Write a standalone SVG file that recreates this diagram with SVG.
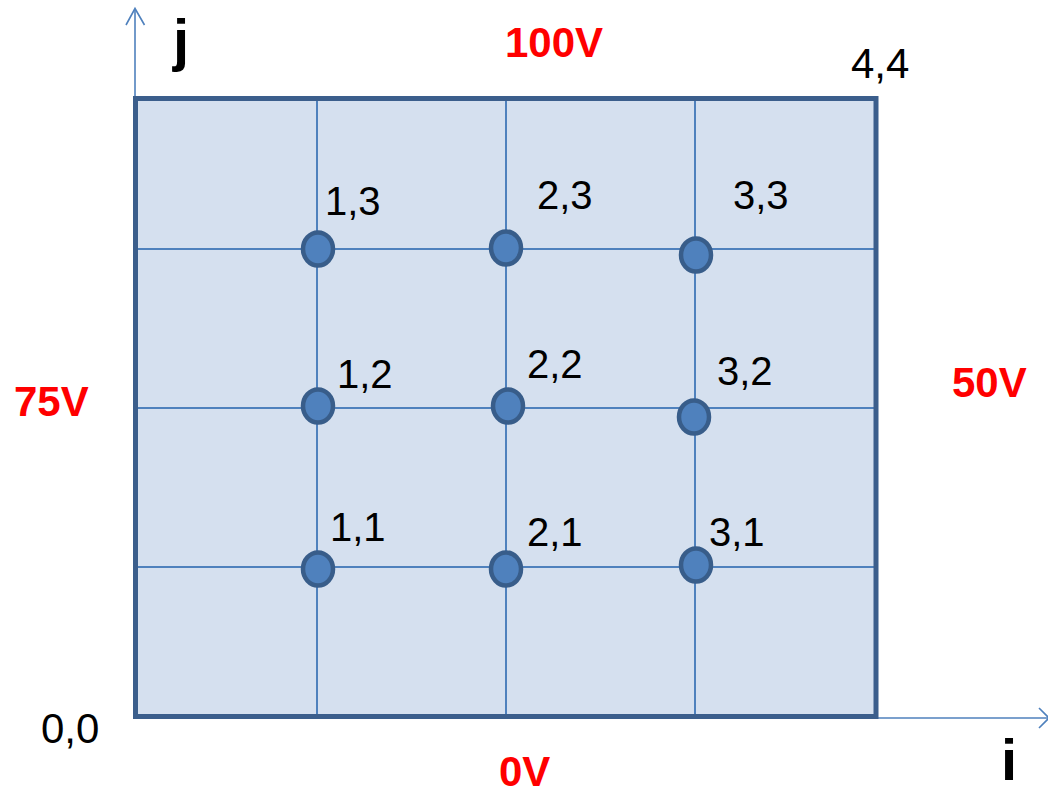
<svg xmlns="http://www.w3.org/2000/svg" width="1048" height="794" viewBox="0 0 1048 794">
<style>
.axis{stroke:#4F81BD;stroke-width:1.6;fill:none}
.grid{stroke:#4F81BD;stroke-width:2;fill:none}
.node{fill:#4F81BD;stroke:#385D8A;stroke-width:4.5}
.lbl{font-family:"Liberation Sans",Arial,sans-serif;font-size:40px;fill:#000}
.volt{font-family:"Liberation Sans",Arial,sans-serif;font-size:42px;font-weight:bold;fill:#FF0000}
.ax{font-family:"Liberation Sans",Arial,sans-serif;font-size:58px;font-weight:bold;fill:#000}
</style>
<rect id="plate" x="135.5" y="98.5" width="740.5" height="618" fill="#D5E0EF" stroke="none"/>
<g id="connectors">
<line class="grid" x1="317" y1="98" x2="317" y2="716"/>
<line class="grid" x1="506" y1="98" x2="506" y2="716"/>
<line class="grid" x1="695" y1="98" x2="695" y2="716"/>
<line class="grid" x1="135" y1="249" x2="876" y2="249"/>
<line class="grid" x1="135" y1="408" x2="876" y2="408"/>
<line class="grid" x1="135" y1="567" x2="876" y2="567"/>
<line class="axis" x1="135" y1="98" x2="135" y2="9"/>
<polyline class="axis" points="126,25 135,8.5 144.5,25"/>
<line class="axis" x1="876" y1="718" x2="1048" y2="718"/>
<polyline class="axis" points="1039,708 1049,718 1039,728"/>
</g>
<rect x="135.5" y="98.5" width="740.5" height="618" fill="none" stroke="#3B5E8C" stroke-width="5"/>
<g id="n13"><ellipse class="node" cx="318" cy="249" rx="15" ry="16.5"/><text class="lbl" x="325" y="215">1,3</text></g>
<g id="n23"><ellipse class="node" cx="506" cy="248" rx="15" ry="16.5"/><text class="lbl" x="537" y="209">2,3</text></g>
<g id="n33"><ellipse class="node" cx="696" cy="255" rx="15" ry="16.5"/><text class="lbl" x="733" y="209">3,3</text></g>
<g id="n12"><ellipse class="node" cx="318" cy="406" rx="15" ry="16.5"/><text class="lbl" x="337" y="388">1,2</text></g>
<g id="n22"><ellipse class="node" cx="508" cy="406" rx="15" ry="16.5"/><text class="lbl" x="527" y="378">2,2</text></g>
<g id="n32"><ellipse class="node" cx="694" cy="417" rx="15" ry="16.5"/><text class="lbl" x="717" y="385">3,2</text></g>
<g id="n11"><ellipse class="node" cx="318" cy="569" rx="15" ry="16.5"/><text class="lbl" x="330" y="541">1,1</text></g>
<g id="n21"><ellipse class="node" cx="506" cy="569" rx="15" ry="16.5"/><text class="lbl" x="527" y="546">2,1</text></g>
<g id="n31"><ellipse class="node" cx="696" cy="565" rx="15" ry="16.5"/><text class="lbl" x="709" y="546">3,1</text></g>
<g id="labels">
<text class="volt" x="505" y="57">100V</text>
<text class="volt" x="14" y="416">75V</text>
<text class="volt" x="952" y="397">50V</text>
<text class="volt" x="499" y="786">0V</text>
<text class="lbl" style="font-size:42px" x="851" y="78">4,4</text>
<text class="lbl" style="font-size:42px" x="41" y="743">0,0</text>
<text class="ax" x="173" y="60">j</text>
<text class="ax" x="1001" y="780">i</text>
</g>
</svg>
